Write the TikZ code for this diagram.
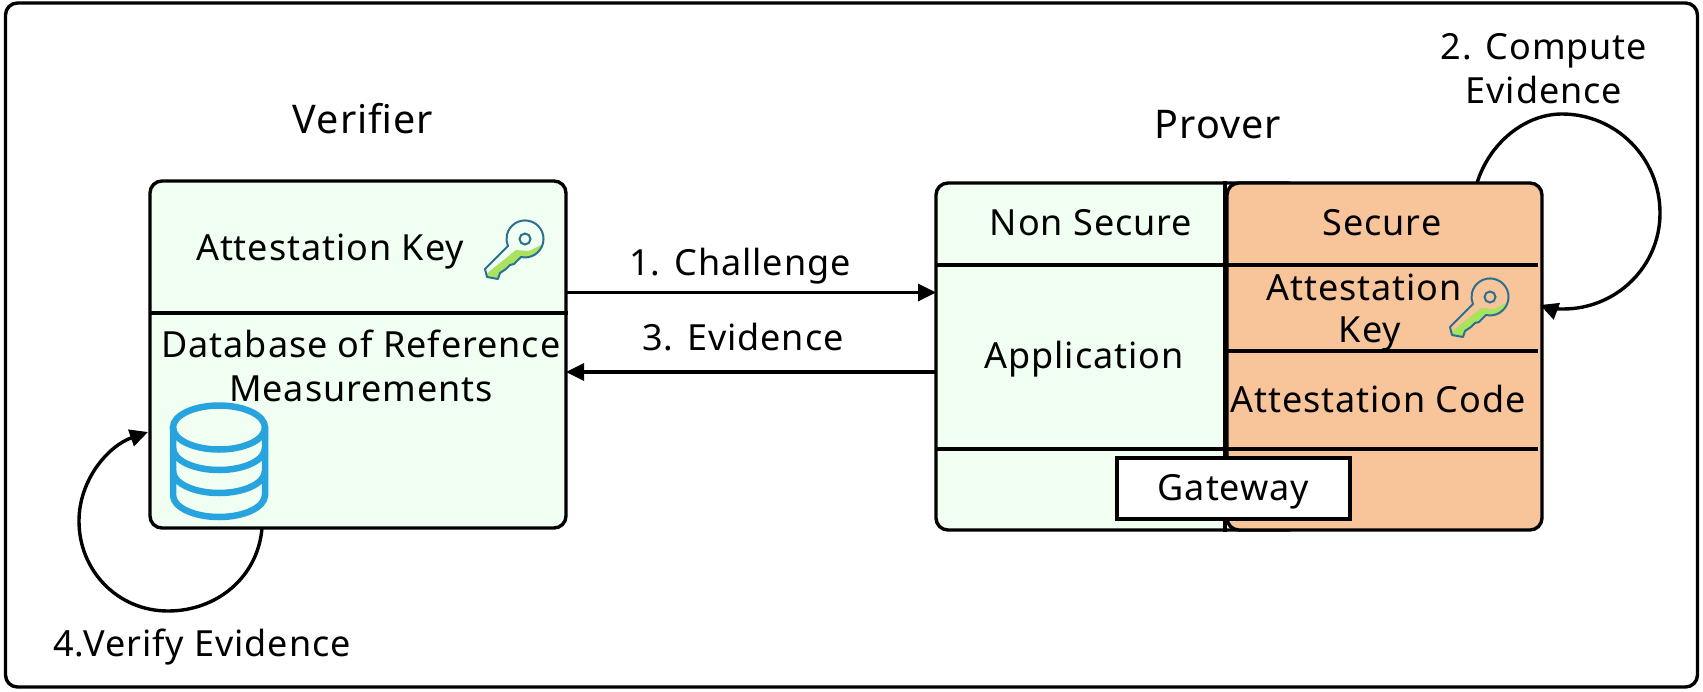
\documentclass[tikz,border=0pt]{standalone}
\usepackage{fontspec}
\setmainfont[LetterSpace=2.6]{Noto Sans}
\usetikzlibrary{arrows.meta}
\definecolor{boxgreen}{HTML}{F0FFF1}
\definecolor{boxorange}{HTML}{F8C49A}
\definecolor{keyblue}{HTML}{2B7090}
\definecolor{keygreen}{HTML}{A9E25F}
\definecolor{dbblue}{HTML}{27A3DD}
\tikzset{
  line/.style={line width=3.4pt,black},
  panel/.style={draw=black,line width=3.4pt,rounded corners=12pt,inner sep=0pt},
  lbl/.style={font=\fontsize{36}{36}\selectfont,inner sep=0pt,align=center,text=black},
  title/.style={font=\fontsize{39.5}{39.5}\selectfont,inner sep=0pt,text=black},
  flow/.style={line,-{Triangle[length=18pt,width=17pt]}},
  dbline/.style={dbblue,line width=6.5pt},
  keyicon/.pic={
    \begin{scope}[shift={(-28,-28)}]
    \def\keypath{(23,24)--(0,47)--(2,55)--(13,57)--(15,51)--(21,47)--(25,43)--(29,42)--(36,35) arc[start angle=102.5,end angle=-202.4,radius=18.5]--cycle}
    \begin{scope}
      \clip \keypath;
      \fill[keygreen] (0,53)--(31,28)--(44,29)--(58,22)--(60,60)--(0,60)--cycle;
    \end{scope}
    \draw[keyblue,line width=2pt,line join=round] \keypath;
    \draw[keyblue,line width=2pt] (40,17) circle[radius=5.5];
    \end{scope}
  },
}
\begin{document}
\begin{tikzpicture}[x=1pt,y=-1pt]
\useasboundingbox (0,0) rectangle (1703,691);
\node[panel,fill=white,minimum width=1692pt,minimum height=684pt] (frame) at (851.5,345) {};

% Verifier
\node[panel,fill=boxgreen,minimum width=416pt,minimum height=347pt] (verifier) at (358,354.5) {};
\coordinate (vdiv) at (150,313);
\draw[line] (vdiv) -- (vdiv -| verifier.east);
\node[title] (vtitle) at (363,119) {Verifier};
\node[lbl] (vkeytext) at (330,252) {Attestation Key};
\node[lbl] (vdb) at (361,366) {Database of Reference\\[8pt]Measurements};
\pic at (513,250) {keyicon};

% database icon
\begin{scope}[shift={(219,461)}]
  \draw[dbline] (0,-33.5) ellipse[x radius=46,y radius=22];
  \draw[dbline,line cap=round] (-46,-33.5) -- (-46,34) arc[start angle=180,end angle=0,x radius=46,y radius=22] -- (46,-33.5);
  \draw[dbline] (-46,-13) arc[start angle=180,end angle=0,x radius=46,y radius=22];
  \draw[dbline] (-46,10) arc[start angle=180,end angle=0,x radius=46,y radius=22];
\end{scope}

% Prover
\node[title] (ptitle) at (1218,125) {Prover};
\node[panel,fill=boxgreen,minimum width=364pt,minimum height=347pt] (nonsec) at (1118,356.5) {};
\node[panel,fill=boxorange,minimum width=315pt,minimum height=347pt] (secure) at (1384.5,356.5) {};
\draw[line,line width=3.8pt] (secure.north west) -- (secure.south west);
\coordinate (d1) at (936,265);
\coordinate (d2) at (1227,351);
\coordinate (d3) at (936,449);
\coordinate (dr) at (1538,300);
\draw[line] (d1) -- (d1 -| dr);
\draw[line] (d2) -- (d2 -| dr);
\draw[line] (d3) -- (d3 -| dr);
\node[lbl] (nstext) at (1091,223) {Non Secure};
\node[lbl] (apptext) at (1084,359) {Application};
\node[lbl] (sectext) at (1382,223) {Secure};
\node[lbl] (akt1) at (1364,287) {Attestation};
\node[lbl] (akt2) at (1370,334) {Key};
\node[lbl] (ack) at (1378,399) {Attestation Code};
\pic at (1478,308) {keyicon};
\node[draw=black,line width=3.4pt,fill=white,minimum width=233pt,minimum height=61pt,inner sep=0pt,font=\fontsize{36}{36}\selectfont] (gateway) at (1233.5,488.5) {\raisebox{-12pt}[0pt][0pt]{Gateway}};

% Messages
\coordinate (c1a) at (566,292.5);
\coordinate (c1b) at (936,292.5);
\coordinate (c3a) at (936,372);
\coordinate (c3b) at (566,372);
\draw[flow] (c1a) -- (c1b);
\draw[flow] (c3a) -- (c3b);
\node[lbl] (l1) at (740,266) {1. Challenge};
\node[lbl] (l3) at (743,337) {3. Evidence};

% Self loops
\coordinate (ra) at (1477,183);
\coordinate (rb) at (1562,114);
\coordinate (rc) at (1660,213);
\coordinate (rd) at (1563,309);
\coordinate (re) at (1540,305);
\draw[flow] (ra) .. controls (1489,144) and (1524,114) .. (rb)
  .. controls (1616,114) and (1660,158) .. (rc)
  .. controls (1660,267) and (1616,309) .. (rd)
  .. controls (1555,309) and (1548,308) .. (re);
\node[lbl] (l2) at (1544,69) {2. Compute\\[8pt]Evidence};

\coordinate (la) at (262,528);
\coordinate (lb) at (168,611);
\coordinate (lc) at (79,521);
\coordinate (ld) at (148,432);
\draw[flow] (la) .. controls (258,577) and (217,611) .. (lb)
  .. controls (118,611) and (79,571) .. (lc)
  .. controls (79,480) and (108,446) .. (ld);
\node[lbl] (l4) at (202,647) {4.Verify Evidence};
\end{tikzpicture}
\end{document}
